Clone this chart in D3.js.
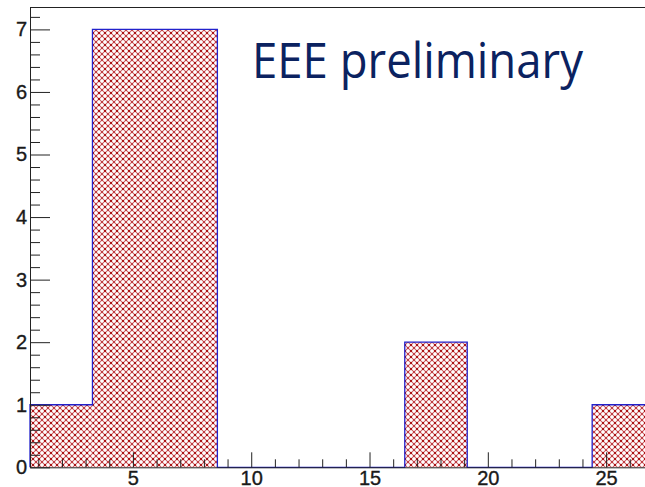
<!DOCTYPE html>
<html>
<head>
<meta charset="utf-8">
<script src="https://cdn.jsdelivr.net/npm/d3@7"></script>
<style>
  html, body { margin: 0; padding: 0; background: #fff; }
  svg { display: block; }
</style>
</head>
<body>
<svg id="chart" width="645" height="487"></svg>
<script>
// Histogram binning (10 equal-width bins) and counts per bin
const binLow = 0.65;
const binHigh = 27.05;
const counts = [1, 7, 7, 0, 0, 0, 2, 0, 0, 1];
const xTickLabels = [5, 10, 15, 20, 25];
const yTickLabels = [0, 1, 2, 3, 4, 5, 6, 7];
const yMax = 7.35;
const titleText = "EEE preliminary";

const svg = d3.select("#chart");
const plotLeft = 30, plotTop = 7.5, plotBottom = 467.3;
const pxPerUnit = 23.66;

const x = d3.scaleLinear().domain([binLow, binHigh])
  .range([plotLeft, plotLeft + (binHigh - binLow) * pxPerUnit]);
const y = d3.scaleLinear().domain([0, yMax]).range([plotBottom, plotTop]);

const nBins = counts.length;
const binW = (binHigh - binLow) / nBins;
const bins = counts.map((c, i) => ({ x0: binLow + i * binW, x1: binLow + (i + 1) * binW, c }));

// Cross-hatch fill pattern
const P = 6;
const defs = svg.append("defs");
const pat = defs.append("pattern")
  .attr("id", "hatch")
  .attr("patternUnits", "userSpaceOnUse")
  .attr("width", P).attr("height", P);
pat.append("rect").attr("width", P).attr("height", P).attr("fill", "#fff");
pat.append("path")
  .attr("d", `M0,0L${P},${P}M${P},0L0,${P}`)
  .attr("stroke", "#cf6066").attr("stroke-width", 1.1).attr("fill", "none");
pat.append("rect").attr("x", P / 2 - 0.9).attr("y", P / 2 - 0.9)
  .attr("width", 1.8).attr("height", 1.8).attr("fill", "#a00000");
[[0, 0], [P, 0], [0, P], [P, P]].forEach(([cx, cy]) => {
  pat.append("rect").attr("x", cx - 0.75).attr("y", cy - 0.75)
    .attr("width", 1.5).attr("height", 1.5).attr("fill", "#b31c22");
});

// Filled bins
svg.append("g").selectAll("rect")
  .data(bins.filter(b => b.c > 0))
  .join("rect")
  .attr("x", d => x(d.x0))
  .attr("y", d => y(d.c))
  .attr("width", d => x(d.x1) - x(d.x0))
  .attr("height", d => y(0) - y(d.c))
  .attr("fill", "url(#hatch)");

// Step outline of the histogram
const stepPts = [[binLow, 0]];
bins.forEach(b => { stepPts.push([b.x0, b.c]); stepPts.push([b.x1, b.c]); });
stepPts.push([binHigh, 0]);
svg.append("path")
  .datum(stepPts)
  .attr("d", d3.line().x(d => x(d[0])).y(d => y(d[1])))
  .attr("fill", "none")
  .attr("stroke", "#2222cc")
  .attr("stroke-width", 1.3);

// Frame top and right lines
svg.append("line")
  .attr("x1", plotLeft).attr("x2", x(binHigh))
  .attr("y1", y(yMax)).attr("y2", y(yMax))
  .attr("stroke", "#222").attr("stroke-width", 1);
svg.append("line")
  .attr("x1", x(binHigh)).attr("x2", x(binHigh))
  .attr("y1", y(yMax)).attr("y2", y(0))
  .attr("stroke", "#222").attr("stroke-width", 1);

const fontFam = "'Liberation Sans', Arial, Helvetica, sans-serif";

function styleLabels(sel) {
  sel.attr("font-family", fontFam).attr("font-size", 20).attr("fill", "#1a1a1a")
    .attr("stroke", "#1a1a1a").attr("stroke-width", 0.35);
}

// Y axis: minor ticks every 0.2, major at integers
const yMinor = d3.range(0, yMax + 1e-9, 0.2).map(v => +v.toFixed(1)).filter(v => Math.abs(v - Math.round(v)) > 1e-6);
svg.append("g")
  .attr("transform", `translate(${plotLeft},0)`)
  .call(d3.axisLeft(y).tickValues(yMinor).tickSize(-10).tickFormat(""))
  .call(g => g.select(".domain").remove())
  .selectAll("line").attr("stroke", "#222");
const yAx = svg.append("g")
  .attr("transform", `translate(${plotLeft},0)`)
  .call(d3.axisLeft(y).tickValues(yTickLabels).tickSizeInner(-20).tickSizeOuter(0).tickPadding(3).tickFormat(d3.format("d")));
yAx.select(".domain").attr("stroke", "#222");
yAx.selectAll("line").attr("stroke", "#222");
yAx.selectAll("text").call(styleLabels);

// X axis: minor ticks at every integer, major every 5
const xMinor = d3.range(1, 28).filter(v => v % 5 !== 0 && v <= binHigh);
svg.append("g")
  .attr("transform", `translate(0,${plotBottom})`)
  .call(d3.axisBottom(x).tickValues(xMinor).tickSize(-8).tickFormat(""))
  .call(g => g.select(".domain").remove())
  .selectAll("line").attr("stroke", "#222");
const xAx = svg.append("g")
  .attr("transform", `translate(0,${plotBottom})`)
  .call(d3.axisBottom(x).tickValues(xTickLabels).tickSizeInner(-15).tickSizeOuter(0).tickPadding(4).tickFormat(d3.format("d")));
xAx.select(".domain").attr("stroke", "#222");
xAx.selectAll("line").attr("stroke", "#222");
xAx.selectAll("text").call(styleLabels);

// Annotation
svg.append("text")
  .attr("x", 252).attr("y", 78)
  .attr("font-family", "'Open Sans', 'Noto Sans', sans-serif")
  .attr("font-size", 50)
  .attr("fill", "#0b2260")
  .attr("textLength", 331)
  .attr("lengthAdjust", "spacingAndGlyphs")
  .text(titleText);
</script>
</body>
</html>
